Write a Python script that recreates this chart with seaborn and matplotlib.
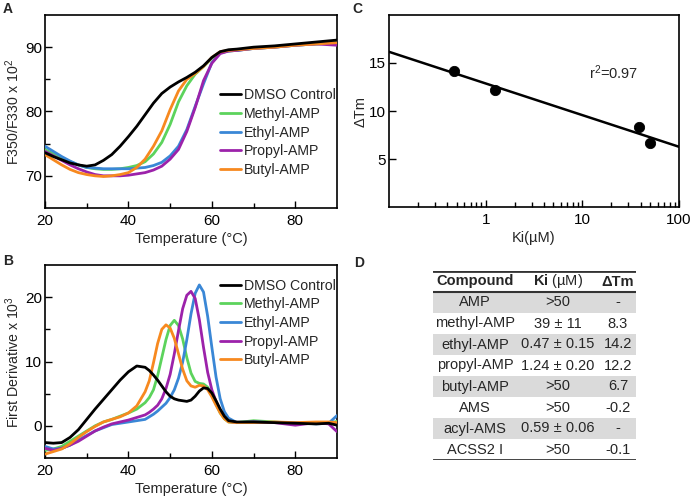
import numpy as np
import pandas as pd
import matplotlib
matplotlib.use("Agg")
import matplotlib.pyplot as plt
import matplotlib.ticker as mticker
import seaborn as sns

# ---- data ----
names = ["DMSO Control", "Methyl-AMP", "Ethyl-AMP", "Propyl-AMP", "Butyl-AMP"]
colors = ["#000000", "#5cd35c", "#3a87d6", "#9c22aa", "#f7891f"]

# panel A: F350/F330 x 10^2
temps_a = [20, 22, 24, 26, 28, 30, 32, 34, 36, 38, 40, 42, 44, 46, 48, 50, 52, 54,
           56, 58, 60, 62, 64, 66, 70, 75, 80, 85, 90]
dmso_a = [73.6, 73.0, 72.5, 72.0, 71.7, 71.5, 71.7, 72.4, 73.3, 74.6, 76.1, 77.7, 79.5,
          81.3, 82.8, 83.8, 84.6, 85.3, 86.1, 87.1, 88.4, 89.3, 89.6, 89.7, 90.0, 90.2,
          90.5, 90.8, 91.1]
methyl_a = [74.1, 73.4, 72.8, 72.2, 71.7, 71.3, 71.1, 71.0, 71.0, 71.1, 71.3, 71.6, 72.2,
            73.4, 75.2, 78.0, 81.5, 84.0, 85.8, 87.0, 88.3, 89.2, 89.4, 89.5, 89.8, 90.0,
            90.3, 90.5, 90.7]
ethyl_a = [74.6, 73.8, 73.0, 72.3, 71.7, 71.3, 71.2, 71.1, 71.1, 71.1, 71.1, 71.2, 71.3,
           71.6, 72.1, 73.1, 74.6, 77.2, 80.8, 84.3, 87.6, 89.1, 89.4, 89.5, 89.8, 90.0,
           90.3, 90.5, 90.7]
propyl_a = [73.8, 73.1, 72.4, 71.7, 71.1, 70.6, 70.2, 70.0, 70.0, 70.0, 70.1, 70.3, 70.5,
            70.9, 71.5, 72.6, 74.1, 76.9, 80.6, 84.8, 87.5, 89.0, 89.4, 89.5, 89.8, 90.0,
            90.3, 90.5, 90.3]
butyl_a = [73.3, 72.5, 71.7, 71.0, 70.5, 70.2, 70.0, 69.9, 70.0, 70.2, 70.5, 71.3, 72.6,
           74.6, 77.0, 80.3, 83.2, 85.0, 85.9, 87.0, 88.4, 89.3, 89.5, 89.6, 89.8, 90.0,
           90.3, 90.5, 90.7]

# panel B: first derivative x 10^3
temps_b = [20, 22, 24, 26, 28, 30, 32, 34, 36, 38, 40, 42, 44, 45, 46, 47, 48, 49, 50,
           51, 52, 53, 54, 55, 56, 57, 58, 59, 60, 61, 62, 63, 64, 66, 70, 75, 80, 85,
           88, 90]
dmso_b = [-2.6, -2.7, -2.6, -1.8, -0.6, 1.0, 2.6, 4.1, 5.6, 7.1, 8.4, 9.3, 9.1, 8.6, 7.9,
          7.1, 6.2, 5.3, 4.6, 4.2, 4.0, 3.9, 3.8, 4.0, 4.6, 5.4, 5.9, 5.8, 5.1, 3.9, 2.6,
          1.5, 0.8, 0.6, 0.6, 0.5, 0.4, 0.3, 0.4, 0.1]
methyl_b = [-3.8, -3.6, -3.2, -2.4, -1.6, -0.8, 0.0, 0.6, 1.0, 1.5, 2.0, 2.6, 3.6, 4.4,
            5.6, 7.8, 10.6, 13.4, 15.6, 16.4, 15.6, 13.5, 10.6, 8.2, 6.9, 6.6, 6.5, 6.0,
            4.8, 3.4, 2.0, 1.1, 0.6, 0.5, 0.8, 0.6, 0.4, 0.5, 0.4, 0.7]
ethyl_b = [-3.2, -3.6, -3.5, -3.0, -2.2, -1.5, -0.8, -0.3, 0.2, 0.4, 0.6, 0.8, 1.0, 1.4,
           1.8, 2.3, 2.9, 3.5, 4.4, 5.6, 7.4, 9.9, 13.4, 17.4, 20.6, 21.9, 20.8, 17.0,
           12.2, 7.6, 4.2, 2.2, 1.2, 0.5, 0.6, 0.5, 0.5, 0.3, 0.4, 1.6]
propyl_b = [-3.5, -3.8, -3.5, -3.0, -2.4, -1.6, -0.8, -0.2, 0.3, 0.6, 0.9, 1.3, 1.7, 2.1,
            2.6, 3.2, 4.2, 5.8, 8.0, 11.2, 14.8, 18.2, 20.3, 20.9, 19.8, 16.5, 12.2, 8.3,
            5.6, 3.8, 2.4, 1.3, 0.7, 0.5, 0.6, 0.5, 0.1, 0.5, 0.3, -0.9]
butyl_b = [-4.4, -4.0, -3.6, -2.8, -1.8, -0.9, -0.1, 0.6, 1.0, 1.4, 2.0, 3.1, 5.3, 7.0,
           9.8, 12.8, 15.0, 15.7, 15.2, 13.6, 11.2, 8.8, 7.0, 6.2, 6.0, 6.3, 6.2, 5.6,
           4.5, 3.2, 2.0, 1.1, 0.6, 0.5, 0.5, 0.6, 0.5, 0.6, 0.6, 0.5]

# panel C: Ki vs dTm
ki_um = [0.47, 1.24, 39, 50]
dtm = [14.2, 12.2, 8.3, 6.7]
r2_text = "r$^{2}$=0.97"

# panel D: table
table_header = ["Compound", r"$\mathbf{Ki}$ (µM)", "ΔTm"]
header_weight = ["bold", "normal", "bold"]
compounds = ["AMP", "methyl-AMP", "ethyl-AMP", "propyl-AMP", "butyl-AMP", "AMS",
             "acyl-AMS", "ACSS2 I"]
ki_text = [">50", "39 ± 11", "0.47 ± 0.15", "1.24 ± 0.20", ">50", ">50",
           "0.59 ± 0.06", ">50"]
dtm_text = ["-", "8.3", "14.2", "12.2", "6.7", "-0.2", "-", "-0.1"]

# ---- style ----
sns.set_theme(style="ticks")
plt.rcParams["font.family"] = ["Liberation Sans", "DejaVu Sans"]
plt.rcParams["mathtext.fontset"] = "custom"
plt.rcParams["mathtext.rm"] = "Liberation Sans"
plt.rcParams["mathtext.bf"] = "Liberation Sans:bold"
plt.rcParams["mathtext.it"] = "Liberation Sans:italic"
plt.rcParams["font.size"] = 10
plt.rcParams["axes.linewidth"] = 1.2
plt.rcParams["xtick.direction"] = "in"
plt.rcParams["ytick.direction"] = "in"

fig = plt.figure(figsize=(6.94, 4.99), dpi=100)
W, H = 694, 499


def add_ax(x0, y0, x1, y1):
    return fig.add_axes([x0 / W, 1 - y1 / H, (x1 - x0) / W, (y1 - y0) / H])


def style_ax(ax):
    for s in ax.spines.values():
        s.set_color("black")
        s.set_linewidth(1.2)
    ax.tick_params(which="major", length=5, width=1, colors="black", labelsize=11)
    ax.tick_params(which="minor", length=3.5, width=1, colors="black")
    ax.tick_params(axis="x", pad=4)
    ax.tick_params(axis="y", pad=2)


def curves(ax, temps, series):
    for name, vals, c in zip(names, series, colors):
        sns.lineplot(x=temps, y=vals, ax=ax, color=c, lw=2.0, label=name,
                     zorder=4 if c == "#000000" else 3)


leg_kw = dict(loc="upper left", frameon=False, fontsize=10.2, handlelength=1.45,
              handletextpad=0.2, labelspacing=0.33, borderpad=0, borderaxespad=0)

# ---- A ----
ax_a = add_ax(45, 15, 337, 208)
curves(ax_a, temps_a, [dmso_a, methyl_a, ethyl_a, propyl_a, butyl_a])
ax_a.set_xlim(20, 90)
ax_a.set_ylim(65, 95)
ax_a.set_xticks([20, 40, 60, 80])
ax_a.set_xticks([30, 50, 70], minor=True)
ax_a.set_yticks([70, 80, 90])
ax_a.set_yticks([75, 85], minor=True)
ax_a.set_xlabel("Temperature (°C)", fontsize=10.5, labelpad=3)
ax_a.set_ylabel("F350/F330 x 10$^{2}$", fontsize=10.2, labelpad=2)
style_ax(ax_a)
ax_a.legend(bbox_to_anchor=(0.6, 0.62), **leg_kw)

# ---- B ----
ax_b = add_ax(45, 265, 337, 458)
curves(ax_b, temps_b, [dmso_b, methyl_b, ethyl_b, propyl_b, butyl_b])
ax_b.set_xlim(20, 90)
ax_b.set_ylim(-5, 25)
ax_b.set_xticks([20, 40, 60, 80])
ax_b.set_xticks([30, 50, 70], minor=True)
ax_b.set_yticks([0, 10, 20])
ax_b.set_yticks([5, 15], minor=True)
ax_b.set_xlabel("Temperature (°C)", fontsize=10.5, labelpad=3)
ax_b.set_ylabel("First Derivative x 10$^{3}$", fontsize=10.2, labelpad=2)
style_ax(ax_b)
ax_b.legend(bbox_to_anchor=(0.6, 0.93), **leg_kw)

# ---- C ----
ax_c = add_ax(389, 15, 679, 207)
ax_c.set_xscale("log")
ax_c.set_xlim(0.1, 100)
ax_c.set_ylim(0, 20)
slope, icpt = np.polyfit(np.log10(ki_um), dtm, 1)
xfit = np.array(ax_c.get_xlim())
ax_c.plot(xfit, slope * np.log10(xfit) + icpt, color="black", lw=1.8, zorder=2)
sns.scatterplot(x=ki_um, y=dtm, ax=ax_c, color="black", s=55, edgecolor="black",
                zorder=3)
ax_c.xaxis.set_major_locator(mticker.FixedLocator([1, 10, 100]))
ax_c.xaxis.set_major_formatter(mticker.FixedFormatter(["1", "10", "100"]))
ax_c.xaxis.set_minor_locator(mticker.LogLocator(base=10, subs=np.arange(2, 10)))
ax_c.xaxis.set_minor_formatter(mticker.NullFormatter())
ax_c.set_yticks([5, 10, 15])
ax_c.set_xlabel("Ki(µM)", fontsize=10.5, labelpad=3)
ax_c.set_ylabel("ΔTm", fontsize=10.5, labelpad=1)
style_ax(ax_c)
ax_c.text(0.69, 0.70, r2_text, transform=ax_c.transAxes, fontsize=10.5,
          ha="left", va="center")

# ---- D ----
ax_d = add_ax(433, 271, 636, 460)
n_rows = len(compounds) + 1
ax_d.set_xlim(0, 1)
ax_d.set_ylim(n_rows, 0)
ax_d.axis("off")
col_x = [0.207, 0.616, 0.911]
for i in range(0, len(compounds), 2):
    ax_d.axhspan(i + 1, i + 2, color="#dadada", lw=0, zorder=1)
for x, h, fw in zip(col_x, table_header, header_weight):
    ax_d.text(x, 0.5, h, ha="center", va="center", fontsize=10.5, fontweight=fw,
              zorder=3)
for i, (c, k, d) in enumerate(zip(compounds, ki_text, dtm_text)):
    for x, t in zip(col_x, [c, k, d]):
        ax_d.text(x, i + 1.5, t, ha="center", va="center", fontsize=10.5, zorder=3)
ax_d.axhline(0, color="#333333", lw=2.0, zorder=4)
ax_d.axhline(1, color="#333333", lw=1.5, zorder=4)
ax_d.axhline(n_rows, color="#333333", lw=2.0, zorder=4)

# panel letters
for lab, (px, py) in zip("ABCD", [(3, 9), (3, 261), (352, 9), (354, 263)]):
    fig.text(px / W, 1 - py / H, lab, fontsize=10, fontweight="bold", ha="left",
             va="center")

fig.savefig("out.png", dpi=100)
